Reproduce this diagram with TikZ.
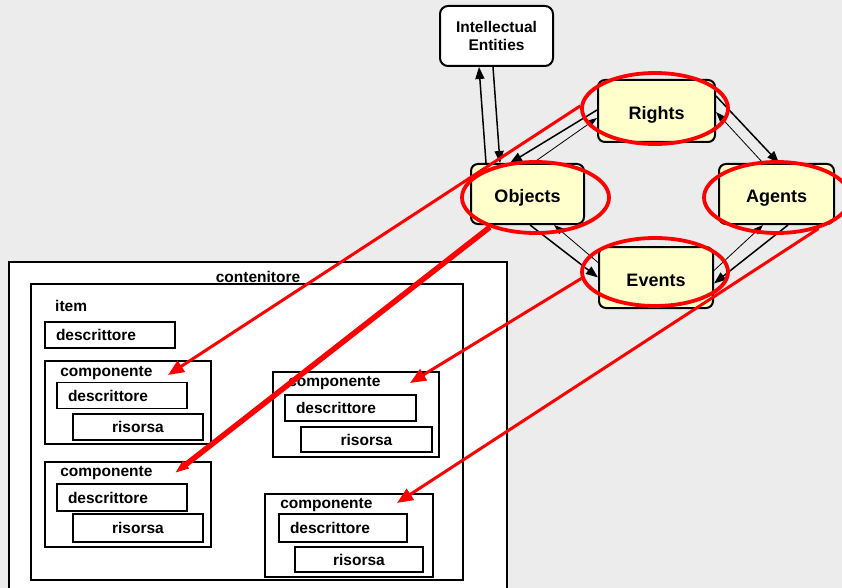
\documentclass[tikz,border=0pt]{standalone}
\usepackage{fontspec}
\setmainfont{Liberation Sans}
\usetikzlibrary{arrows.meta,shapes.geometric}

\begin{document}
\begin{tikzpicture}[x=1pt,y=-1pt]
\definecolor{paper}{RGB}{236,236,236}
\definecolor{entity fill}{RGB}{255,255,204}
\tikzstyle{entity box} = [draw, line width=2pt, rounded corners=7pt, fill=entity fill, inner sep=0pt, text height=17pt, text depth=0pt, font=\bfseries\fontsize{18}{21}\selectfont]
\tikzstyle{top box} = [draw, line width=2pt, rounded corners=8pt, fill=white, inner sep=0pt, align=center, font=\bfseries\fontsize{15.5}{18}\selectfont]
\tikzstyle{frame box} = [draw, line width=1.8pt, fill=white, inner sep=0pt]
\tikzstyle{part box} = [draw, line width=1.8pt, fill=white, inner ysep=0pt, inner xsep=11pt, align=left, font=\bfseries\fontsize{15.5}{17}\selectfont]
\tikzstyle{res box} = [draw, line width=1.8pt, fill=white, inner sep=0pt, font=\bfseries\fontsize{15.5}{17}\selectfont]
\tikzstyle{box title} = [inner sep=0pt, anchor=base west, font=\bfseries\fontsize{15.5}{17}\selectfont]
\tikzstyle{ring} = [draw=red, line width=3.8pt, ellipse, inner sep=0pt]
\tikzstyle{link} = [draw, line width=1.5pt, -{Triangle[length=12pt,width=9pt]}]
\tikzstyle{thin link} = [draw, line width=0.8pt, -{Triangle[length=10pt,width=7pt]}]
\tikzstyle{red link} = [draw=red, line width=3pt, -{Triangle[length=16pt,width=13pt]}]
\tikzstyle{heavy red link} = [draw=red, line width=5.5pt, -{Triangle[length=14pt,width=9pt]}]

% background
\fill[paper] (0,0) rectangle (842,588);
\useasboundingbox (0,0) rectangle (842,588);

% contenitore / item
\node[frame box, minimum width=498pt, minimum height=330pt] (cont) at (258,427) {};
\node[box title, anchor=base] (cont_t) at (258,282) {contenitore};
\node[frame box, minimum width=432pt, minimum height=296pt] (item) at (247,432) {};
\node[box title] (item_t) at (55,311) {item};
\node[part box, text width=108pt, minimum height=26pt] (item_d) at (110,335) {descrittore};

% componenti
\node[frame box, minimum width=166pt, minimum height=83pt] (comp_1) at (128,402.5) {};
\node[box title] (comp_1_t) at ([xshift=16pt,yshift=-16pt]comp_1.north west) {componente};
\node[part box, text width=108pt, minimum height=26pt] (comp_1_d) at (122,395.5) {descrittore};
\node[res box, minimum width=130pt, minimum height=26pt] (comp_1_r) at (138,427) {risorsa};

\node[frame box, minimum width=166pt, minimum height=85pt] (comp_2) at (128,504.5) {};
\node[box title] (comp_2_t) at ([xshift=16pt,yshift=-15.5pt]comp_2.north west) {componente};
\node[part box, text width=108pt, minimum height=27pt] (comp_2_d) at (122,497.5) {descrittore};
\node[res box, minimum width=130pt, minimum height=28pt] (comp_2_r) at (138,528) {risorsa};

\node[frame box, minimum width=166pt, minimum height=85pt] (comp_3) at (356,414.5) {};
\node[box title] (comp_3_t) at ([xshift=16pt,yshift=-15pt]comp_3.north west) {componente};
\node[part box, text width=109pt, minimum height=26pt] (comp_3_d) at (350.5,408) {descrittore};
\node[res box, minimum width=131pt, minimum height=25pt] (comp_3_r) at (366.5,439.5) {risorsa};

\node[frame box, minimum width=168pt, minimum height=83pt] (comp_4) at (349,535.5) {};
\node[box title] (comp_4_t) at ([xshift=16pt,yshift=-15pt]comp_4.north west) {componente};
\node[part box, text width=106pt, minimum height=28pt] (comp_4_d) at (343,528) {descrittore};
\node[res box, minimum width=128pt, minimum height=25pt] (comp_4_r) at (359,559.5) {risorsa};

% entities
\node[top box, minimum width=113pt, minimum height=60pt] (intellectual) at (496.5,36) {Intellectual\\Entities};
\node[entity box, minimum width=117pt, minimum height=62pt] (rights) at (656.5,111) {Rights};
\node[entity box, minimum width=113pt, minimum height=60pt] (objects) at (527.5,194) {Objects};
\node[entity box, minimum width=115pt, minimum height=60pt] (agents) at (776.5,194) {Agents};
\node[entity box, minimum width=114pt, minimum height=61pt] (events) at (656,277.5) {Events};

\path[link] ([xshift=-41.5pt]objects.north) -- ([xshift=-17.5pt]intellectual.south);
\path[link] ([xshift=-3.5pt]intellectual.south) -- ([xshift=-27.5pt]objects.north);
\path[link] ([yshift=1pt]rights.west) -- ([xshift=-17.5pt]objects.north);
\path[thin link] ([xshift=5.5pt]objects.north) -- ([yshift=-7pt]rights.west);
\path[link] ([yshift=15pt]rights.east) -- ([xshift=2.5pt]agents.north);
\path[thin link] ([xshift=-13.5pt]agents.north) -- ([yshift=-1pt]rights.east);
\path[link] ([xshift=2.5pt]objects.south) -- (events.west);
\path[thin link] ([yshift=15pt]events.west) -- ([xshift=26.5pt]objects.south);
\path[thin link] ([yshift=7pt]events.east) -- ([xshift=-13.5pt]agents.south);
\path[link] ([xshift=11.5pt]agents.south) -- ([yshift=-6pt]events.east);

% red rings
\node[ring, minimum width=146pt, minimum height=71pt] (rights_ring) at (655,108.5) {};
\node[ring, minimum width=147pt, minimum height=71pt] (objects_ring) at (535.5,197.5) {};
\node[ring, minimum width=146pt, minimum height=71pt] (agents_ring) at (777,197.5) {};
\node[ring, minimum width=146pt, minimum height=68pt] (events_ring) at (655,272) {};

\coordinate (tip_1) at (168,375);
\coordinate (tip_2) at (175,473);
\coordinate (tip_3) at (410,383);
\coordinate (tip_4) at (397,503);
\path[red link] (rights_ring.178) -- (tip_1);
\path[heavy red link] (objects_ring.213) -- (tip_2);
\path[red link] (events_ring.185) -- (tip_3);
\path[red link] (agents_ring.323) -- (tip_4);
\end{tikzpicture}
\end{document}
